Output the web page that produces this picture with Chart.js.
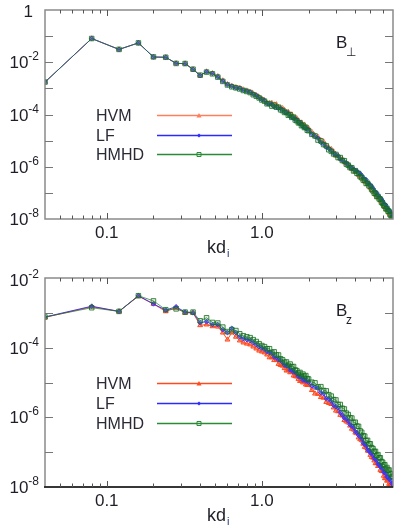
<!DOCTYPE html>
<html>
<head>
<meta charset="utf-8">
<script src="https://cdn.jsdelivr.net/npm/chart.js@4.4.0/dist/chart.umd.min.js"></script>
<style>
body { margin: 0; background: #fff; }
#wrap { position: relative; width: 399px; height: 529px; }
canvas { position: absolute; left: 0; }
</style>
</head>
<body>
<div id="wrap">
  <canvas id="perpChart" width="399" height="262" style="top:0"></canvas>
  <canvas id="zChart" width="399" height="267" style="top:262px"></canvas>
</div>
<script>
// wavenumbers k d_i
const kd = [0.04, 0.08, 0.12, 0.16, 0.20, 0.24, 0.28, 0.32, 0.36, 0.40, 0.44, 0.48, 0.52, 0.56, 0.60,
    0.64, 0.68, 0.72, 0.76, 0.80, 0.84, 0.88, 0.92, 0.96, 1.00,
    1.04, 1.08, 1.12, 1.16, 1.20, 1.24, 1.28, 1.32, 1.36, 1.40, 1.44, 1.48, 1.52, 1.56, 1.60,
    1.64, 1.68, 1.72, 1.76, 1.80, 1.84, 1.88, 1.92, 1.96, 2.00,
    2.1, 2.2, 2.3, 2.4, 2.5, 2.6, 2.7, 2.8, 2.9, 3.0,
    3.1, 3.2, 3.3, 3.4, 3.5, 3.6, 3.7, 3.8, 3.9, 4.0,
    4.1, 4.2, 4.3, 4.4, 4.5, 4.6, 4.7, 4.8, 4.9, 5.0,
    5.1, 5.2, 5.3, 5.4, 5.5, 5.6, 5.7, 5.8, 5.9, 6.0,
    6.1, 6.2, 6.3, 6.4, 6.5, 6.6, 6.7, 6.8, 6.9, 7.0];

// B perp spectra
const hvmPerp = [1.74e-3, 8.1e-2, 3.1e-2, 5.5e-2, 1.58e-2, 1.55e-2, 9.1e-3, 8.9e-3, 5.4e-3, 3.1e-3, 4.4e-3, 3.8e-3, 2.9e-3, 2.0e-3, 1.45e-3,
    1.25e-3, 1.1e-3, 1.05e-3, 9.0e-4, 8.2e-4, 7.4e-4, 6.3e-4, 5.5e-4, 4.6e-4, 4.0e-4,
    3.47e-4, 2.75e-4, 2.69e-4, 2.75e-4, 2.4e-4, 2.45e-4, 1.9e-4, 1.82e-4, 1.74e-4, 1.48e-4, 1.23e-4, 1.23e-4, 1.02e-4, 1.0e-4, 7.94e-5,
    7.41e-5, 7.08e-5, 5.89e-5, 4.9e-5, 4.9e-5, 4.07e-5, 4.07e-5, 3.24e-5, 3.02e-5, 2.95e-5,
    2.14e-5, 1.55e-5, 1.38e-5, 1.02e-5, 9.12e-6, 6.31e-6, 5.37e-6, 4.79e-6, 3.8e-6, 2.63e-6,
    2.57e-6, 2.04e-6, 1.95e-6, 1.48e-6, 1.32e-6, 1.23e-6, 1.0e-6, 8.13e-7, 7.94e-7, 6.46e-7,
    6.31e-7, 4.79e-7, 4.37e-7, 4.07e-7, 3.31e-7, 2.69e-7, 2.63e-7, 2.14e-7, 2.09e-7, 1.55e-7,
    1.41e-7, 1.29e-7, 1.05e-7, 8.51e-8, 8.32e-8, 6.76e-8, 6.61e-8, 5.01e-8, 4.57e-8, 4.27e-8,
    3.47e-8, 2.82e-8, 2.82e-8, 2.29e-8, 2.24e-8, 1.7e-8, 1.55e-8, 1.45e-8, 1.17e-8, 9.33e-9];
const lfPerp = [1.74e-3, 8.1e-2, 3.1e-2, 5.5e-2, 1.58e-2, 1.55e-2, 9.1e-3, 8.8e-3, 5.3e-3, 3.1e-3, 4.3e-3, 3.7e-3, 2.75e-3, 1.9e-3, 1.38e-3,
    1.2e-3, 1.05e-3, 1.0e-3, 8.5e-4, 7.9e-4, 7.0e-4, 6.0e-4, 5.3e-4, 4.4e-4, 3.7e-4,
    3.39e-4, 2.63e-4, 2.51e-4, 2.45e-4, 2.0e-4, 2.0e-4, 1.7e-4, 1.7e-4, 1.48e-4, 1.23e-4, 1.15e-4, 1.1e-4, 8.51e-5, 8.13e-5, 7.08e-5,
    6.92e-5, 6.03e-5, 4.9e-5, 4.57e-5, 4.37e-5, 3.39e-5, 3.31e-5, 2.88e-5, 2.82e-5, 2.51e-5,
    1.78e-5, 1.45e-5, 1.23e-5, 8.51e-6, 7.41e-6, 5.62e-6, 5.01e-6, 4.07e-6, 3.16e-6, 2.82e-6,
    2.63e-6, 1.95e-6, 1.82e-6, 1.51e-6, 1.41e-6, 1.2e-6, 9.55e-7, 8.71e-7, 8.13e-7, 7.24e-7,
    6.92e-7, 5.75e-7, 5.5e-7, 4.68e-7, 3.72e-7, 3.39e-7, 3.16e-7, 2.4e-7, 2.29e-7, 1.86e-7,
    1.78e-7, 1.48e-7, 1.17e-7, 1.07e-7, 1.0e-7, 7.59e-8, 7.24e-8, 6.03e-8, 5.75e-8, 4.9e-8,
    3.89e-8, 3.55e-8, 3.39e-8, 2.57e-8, 2.45e-8, 2.04e-8, 1.95e-8, 1.66e-8, 1.32e-8, 1.17e-8];
const hmhdPerp = [1.74e-3, 8.1e-2, 3.1e-2, 5.5e-2, 1.6e-2, 1.55e-2, 9.0e-3, 8.9e-3, 5.4e-3, 3.2e-3, 4.2e-3, 3.6e-3, 2.7e-3, 1.85e-3, 1.35e-3,
    1.15e-3, 1.05e-3, 9.5e-4, 8.3e-4, 7.6e-4, 6.9e-4, 5.7e-4, 5.0e-4, 4.3e-4, 3.6e-4,
    3.24e-4, 2.57e-4, 2.63e-4, 2.09e-4, 2.29e-4, 1.9e-4, 1.9e-4, 1.51e-4, 1.41e-4, 1.2e-4, 1.2e-4, 9.33e-5, 9.77e-5, 7.76e-5, 7.94e-5,
    6.17e-5, 5.75e-5, 4.79e-5, 4.79e-5, 3.72e-5, 3.89e-5, 3.16e-5, 3.24e-5, 2.51e-5, 2.4e-5,
    1.74e-5, 1.51e-5, 1.05e-5, 9.77e-6, 7.08e-6, 6.31e-6, 4.47e-6, 3.89e-6, 3.09e-6, 2.95e-6,
    2.24e-6, 2.24e-6, 1.74e-6, 1.7e-6, 1.26e-6, 1.15e-6, 9.33e-7, 9.12e-7, 6.92e-7, 7.08e-7,
    5.62e-7, 5.5e-7, 4.17e-7, 3.8e-7, 3.09e-7, 3.02e-7, 2.29e-7, 2.34e-7, 1.86e-7, 1.78e-7,
    1.35e-7, 1.2e-7, 9.77e-8, 9.55e-8, 7.24e-8, 7.41e-8, 5.89e-8, 5.75e-8, 4.37e-8, 3.98e-8,
    3.24e-8, 3.16e-8, 2.45e-8, 2.51e-8, 2.0e-8, 1.95e-8, 1.48e-8, 1.35e-8, 1.1e-8, 1.05e-8];

// B z spectra
const hvmZ = [7.4e-4, 1.5e-3, 1.1e-3, 3.0e-3, 1.8e-3, 1.1e-3, 1.4e-3, 1.0e-3, 1.0e-3, 4.4e-4, 4.6e-4, 4.1e-4, 4.0e-4, 2.7e-4, 1.7e-4,
    2.7e-4, 2.05e-4, 1.6e-4, 1.4e-4, 1.3e-4, 1.23e-4, 1.07e-4, 9.4e-5, 8.2e-5, 7.7e-5,
    7.24e-5, 6.31e-5, 5.25e-5, 5.25e-5, 4.37e-5, 4.37e-5, 3.39e-5, 3.16e-5, 3.02e-5, 2.57e-5, 2.19e-5, 2.24e-5, 1.95e-5, 2.0e-5, 1.58e-5,
    1.51e-5, 1.48e-5, 1.26e-5, 1.1e-5, 1.15e-5, 1.0e-5, 1.07e-5, 8.71e-6, 8.51e-6, 8.51e-6,
    6.03e-6, 4.79e-6, 4.68e-6, 3.8e-6, 3.63e-6, 2.75e-6, 2.57e-6, 2.4e-6, 1.91e-6, 1.55e-6,
    1.48e-6, 1.17e-6, 1.12e-6, 8.32e-7, 7.59e-7, 7.08e-7, 5.75e-7, 4.68e-7, 4.47e-7, 3.63e-7,
    3.47e-7, 2.63e-7, 2.34e-7, 2.19e-7, 1.74e-7, 1.41e-7, 1.35e-7, 1.1e-7, 1.07e-7, 8.32e-8,
    7.24e-8, 6.92e-8, 5.75e-8, 4.79e-8, 4.79e-8, 3.98e-8, 3.98e-8, 3.09e-8, 2.88e-8, 2.82e-8,
    2.09e-8, 1.78e-8, 1.78e-8, 1.51e-8, 1.55e-8, 1.23e-8, 1.17e-8, 1.15e-8, 9.77e-9, 8.32e-9];
const lfZ = [7.6e-4, 1.55e-3, 1.1e-3, 3.1e-3, 1.8e-3, 1.2e-3, 1.5e-3, 1.05e-3, 1.0e-3, 5.2e-4, 5.6e-4, 4.6e-4, 4.6e-4, 3.3e-4, 2.7e-4,
    3.6e-4, 2.7e-4, 2.05e-4, 1.8e-4, 1.7e-4, 1.6e-4, 1.4e-4, 1.23e-4, 1.07e-4, 9.6e-5,
    9.12e-5, 7.76e-5, 7.24e-5, 6.92e-5, 5.37e-5, 5.25e-5, 4.47e-5, 4.37e-5, 3.8e-5, 3.16e-5, 3.02e-5, 2.95e-5, 2.29e-5, 2.29e-5, 2.0e-5,
    2.0e-5, 1.78e-5, 1.48e-5, 1.45e-5, 1.45e-5, 1.17e-5, 1.23e-5, 1.1e-5, 1.12e-5, 1.02e-5,
    8.13e-6, 7.24e-6, 6.76e-6, 5.13e-6, 4.79e-6, 3.47e-6, 3.39e-6, 2.88e-6, 2.24e-6, 2.04e-6,
    1.86e-6, 1.38e-6, 1.17e-6, 9.55e-7, 9.12e-7, 7.76e-7, 6.17e-7, 5.62e-7, 5.13e-7, 3.89e-7,
    3.63e-7, 3.02e-7, 2.82e-7, 2.4e-7, 1.86e-7, 1.7e-7, 1.55e-7, 1.17e-7, 1.12e-7, 9.55e-8,
    9.33e-8, 8.13e-8, 6.61e-8, 6.17e-8, 5.89e-8, 4.57e-8, 4.47e-8, 3.8e-8, 3.72e-8, 3.31e-8,
    2.69e-8, 2.57e-8, 2.45e-8, 1.95e-8, 1.95e-8, 1.7e-8, 1.7e-8, 1.51e-8, 1.26e-8, 1.2e-8];
const hmhdZ = [7.6e-4, 1.4e-3, 1.1e-3, 3.1e-3, 2.2e-3, 1.23e-3, 1.3e-3, 1.05e-3, 1.05e-3, 5.9e-4, 7.2e-4, 5.3e-4, 5.1e-4, 3.9e-4, 2.9e-4,
    3.3e-4, 3.1e-4, 2.5e-4, 2.2e-4, 2.05e-4, 1.94e-4, 1.7e-4, 1.5e-4, 1.3e-4, 1.15e-4,
    1.07e-4, 9.33e-5, 9.33e-5, 7.24e-5, 7.59e-5, 6.17e-5, 6.17e-5, 4.79e-5, 4.47e-5, 3.8e-5, 3.89e-5, 3.09e-5, 3.39e-5, 2.82e-5, 2.88e-5,
    2.29e-5, 2.19e-5, 1.86e-5, 1.95e-5, 1.58e-5, 1.74e-5, 1.51e-5, 1.58e-5, 1.29e-5, 1.26e-5,
    1.02e-5, 9.77e-6, 7.41e-6, 7.59e-6, 5.89e-6, 5.75e-6, 4.47e-6, 4.07e-6, 3.24e-6, 3.16e-6,
    2.34e-6, 2.34e-6, 1.82e-6, 1.74e-6, 1.32e-6, 1.2e-6, 9.77e-7, 9.55e-7, 7.08e-7, 7.24e-7,
    5.62e-7, 5.5e-7, 4.07e-7, 3.72e-7, 2.95e-7, 2.88e-7, 2.14e-7, 2.19e-7, 1.74e-7, 1.74e-7,
    1.35e-7, 1.26e-7, 1.05e-7, 1.05e-7, 8.13e-8, 8.51e-8, 6.92e-8, 6.92e-8, 5.37e-8, 5.13e-8,
    4.27e-8, 4.37e-8, 3.39e-8, 3.63e-8, 3.02e-8, 3.09e-8, 2.45e-8, 2.34e-8, 2.0e-8, 2.04e-8];

const seriesNames = ['HVM', 'LF', 'HMHD'];
const xTicks = [0.05, 0.06, 0.07, 0.08, 0.09, 0.1, 0.2, 0.3, 0.4, 0.5, 0.6, 0.7, 0.8, 0.9, 1, 2, 3, 4, 5, 6];
const xTickLabels = { 0.1: '0.1', 1: '1.0' };

const FONT = '"Liberation Sans", Arial, sans-serif';
const TXT = '#1e1e28';

function pts(vals) {
    return kd.map((k, i) => ({ x: k, y: vals[i] }));
}

function drawPow(ctx, exp, right, cy, dy) {
    dy = dy || 0;
    if (exp === 0) {
        ctx.font = '17px ' + FONT;
        ctx.textAlign = 'right';
        ctx.fillText('1', right - 6, cy + 7);
        return;
    }
    const sup = '-' + Math.abs(exp);
    ctx.font = '17px ' + FONT;
    const wb = ctx.measureText('10').width;
    ctx.font = '12px ' + FONT;
    const ws = ctx.measureText(sup).width;
    const x0 = right - wb - ws;
    ctx.textAlign = 'left';
    ctx.font = '17px ' + FONT;
    ctx.fillText('10', x0, cy + 6 + dy);
    ctx.font = '12px ' + FONT;
    ctx.fillText(sup, x0 + wb, cy - 2 + dy);
}

function drawMarker(ctx, style, x, y, color) {
    ctx.strokeStyle = color;
    ctx.fillStyle = color;
    ctx.lineWidth = 1;
    ctx.beginPath();
    if (style === 'triangle') {
        ctx.moveTo(x, y - 2.5); ctx.lineTo(x + 2.5, y + 2); ctx.lineTo(x - 2.5, y + 2); ctx.closePath();
        ctx.fill();
    } else if (style === 'rectRot') {
        ctx.moveTo(x, y - 2); ctx.lineTo(x + 2, y); ctx.lineTo(x, y + 2); ctx.lineTo(x - 2, y); ctx.closePath();
        ctx.fill();
    } else {
        ctx.rect(x - 2, y - 2, 4, 4);
        ctx.stroke();
    }
}

const framePlugin = {
    id: 'frameAxes',
    afterDraw(chart, args, opts) {
        const { ctx, chartArea: a, scales: { x, y } } = chart;
        ctx.save();
        ctx.lineWidth = 1.5;
        ctx.strokeStyle = '#8a8a8a';
        ctx.strokeRect(a.left, a.top, a.right - a.left, a.bottom - a.top);
        if (opts.darkBottom) {
            ctx.strokeStyle = '#111';
            ctx.beginPath(); ctx.moveTo(a.left - 1, a.bottom); ctx.lineTo(a.right, a.bottom); ctx.stroke();
        }

        // x ticks, inward on bottom and top
        ctx.lineWidth = 1;
        ctx.strokeStyle = '#555';
        xTicks.forEach(v => {
            const px = Math.round(x.getPixelForValue(v)) + 0.5;
            const len = xTickLabels[v] ? 6 : 3.5;
            ctx.beginPath();
            ctx.moveTo(px, a.bottom); ctx.lineTo(px, a.bottom - len);
            ctx.moveTo(px, a.top); ctx.lineTo(px, a.top + len);
            ctx.stroke();
        });

        // y ticks, one per decade
        ctx.strokeStyle = '#777';
        for (let e = opts.yMaxExp - 1; e > opts.yMinExp; e--) {
            const py = Math.round(y.getPixelForValue(Math.pow(10, e))) + 0.5;
            ctx.beginPath();
            ctx.moveTo(a.left, py); ctx.lineTo(a.left + 8, py);
            ctx.moveTo(a.right, py); ctx.lineTo(a.right - 8, py);
            ctx.stroke();
        }

        // y labels
        ctx.fillStyle = TXT;
        ctx.textBaseline = 'alphabetic';
        opts.yLabels.forEach(e => {
            const py = y.getPixelForValue(Math.pow(10, e));
            drawPow(ctx, e, 39, py, e === opts.yMaxExp ? opts.topShift : 0);
        });

        // x labels
        ctx.font = '17px ' + FONT;
        ctx.textAlign = 'center';
        Object.keys(xTickLabels).forEach(v => {
            ctx.fillText(xTickLabels[v], x.getPixelForValue(Number(v)), a.bottom + 19);
        });

        // axis title kd_i
        ctx.textAlign = 'left';
        ctx.font = '18px ' + FONT;
        ctx.fillText('kd', 207, a.bottom + 34);
        const wk = ctx.measureText('kd').width;
        ctx.font = '11px ' + FONT;
        ctx.fillStyle = '#24407a';
        ctx.fillText('i', 207 + wk + 1, a.bottom + 38);

        // panel label
        ctx.fillStyle = TXT;
        ctx.font = '17px ' + FONT;
        ctx.fillText('B', 336, a.top + 38);
        ctx.font = '12px ' + FONT;
        ctx.fillText(opts.sub, 346, a.top + 46);

        // legend
        opts.legend.forEach((row, i) => {
            ctx.fillStyle = '#2a2a36';
            ctx.font = '16px ' + FONT;
            ctx.textAlign = 'left';
            ctx.fillText(seriesNames[i], 96, row.y + 6);
            ctx.strokeStyle = row.color;
            ctx.lineWidth = 1.5;
            ctx.beginPath(); ctx.moveTo(157, row.y + 0.5); ctx.lineTo(232, row.y + 0.5); ctx.stroke();
            drawMarker(ctx, row.style, 199, row.y + 0.5, row.color);
        });
        ctx.restore();
    }
};

function makePanel(id, hvm, lf, hmhd, cfg) {
    const ctx = document.getElementById(id).getContext('2d');
    return new Chart(ctx, {
        type: 'line',
        data: {
            datasets: [
                {
                    label: 'HVM', data: pts(hvm), order: 3,
                    borderColor: cfg.hvmColor, borderWidth: 1,
                    pointStyle: 'triangle', pointRadius: 2.8, pointBorderWidth: 1,
                    pointBorderColor: cfg.hvmColor, pointBackgroundColor: cfg.hvmFill
                },
                {
                    label: 'LF', data: pts(lf), order: 2,
                    borderColor: 'rgba(40,40,255,0.85)', borderWidth: 1,
                    pointStyle: 'rectRot', pointRadius: 2.3, pointBorderWidth: 1,
                    pointBorderColor: 'rgba(50,50,255,0.8)', pointBackgroundColor: 'rgba(60,60,255,0.6)'
                },
                {
                    label: 'HMHD', data: pts(hmhd), order: 1,
                    borderColor: 'rgba(30,120,40,0.7)', borderWidth: 1,
                    pointStyle: 'rect', pointRadius: 3.2, pointBorderWidth: 1,
                    pointBorderColor: 'rgba(20,110,30,0.8)', pointBackgroundColor: 'rgba(60,150,60,0.15)'
                }
            ]
        },
        options: {
            responsive: false,
            animation: false,
            devicePixelRatio: 1,
            layout: { padding: cfg.padding },
            scales: {
                x: { type: 'logarithmic', min: 0.04, max: 7, display: false },
                y: { type: 'logarithmic', min: Math.pow(10, cfg.yMinExp), max: Math.pow(10, cfg.yMaxExp), display: false }
            },
            plugins: {
                legend: { display: false },
                tooltip: { enabled: false },
                frameAxes: {
                    yMinExp: cfg.yMinExp, yMaxExp: cfg.yMaxExp, yLabels: cfg.yLabels,
                    topShift: cfg.topShift, sub: cfg.sub, darkBottom: cfg.darkBottom,
                    legend: [
                        { y: cfg.legendY[0], color: cfg.hvmColor, style: 'triangle' },
                        { y: cfg.legendY[1], color: '#2b2bff', style: 'rectRot' },
                        { y: cfg.legendY[2], color: '#2a8a36', style: 'rect' }
                    ]
                }
            }
        },
        plugins: [framePlugin]
    });
}

makePanel('perpChart', hvmPerp, lfPerp, hmhdPerp, {
    padding: { left: 45, top: 10, right: 6, bottom: 43 },
    yMinExp: -8, yMaxExp: 0, yLabels: [0, -2, -4, -6, -8], topShift: 0,
    sub: '\u22A5', darkBottom: false,
    hvmColor: '#ff7f5c', hvmFill: 'rgba(255,130,100,0.5)',
    legendY: [115, 135, 154]
});

makePanel('zChart', hvmZ, lfZ, hmhdZ, {
    padding: { left: 45, top: 16, right: 6, bottom: 42 },
    yMinExp: -8, yMaxExp: -2, yLabels: [-2, -4, -6, -8], topShift: 2,
    sub: 'z', darkBottom: true,
    hvmColor: '#ff4a1c', hvmFill: 'rgba(255,80,40,0.5)',
    legendY: [121, 141, 161]
});
</script>
</body>
</html>
